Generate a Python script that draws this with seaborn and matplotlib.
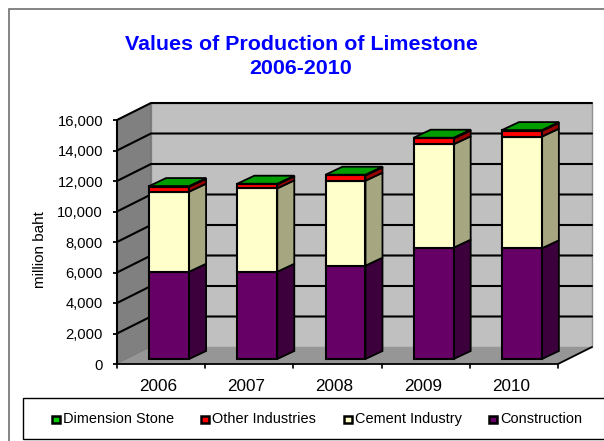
import matplotlib
matplotlib.use("Agg")
import matplotlib.pyplot as plt
import seaborn as sns
from matplotlib.patches import Polygon, Rectangle
from matplotlib.transforms import Affine2D

years = ["2006", "2007", "2008", "2009", "2010"]
construction = [5720, 5720, 6120, 7300, 7260]
cement = [5250, 5470, 5570, 6780, 7320]
other = [320, 255, 345, 380, 380]
dimension = [50, 50, 50, 50, 50]
y_ticks = [0, 2000, 4000, 6000, 8000, 10000, 12000, 14000, 16000]

series = [
    # name, values, front, side
    ("Construction", construction, "#660066", "#3c003c"),
    ("Cement Industry", cement, "#ffffcc", "#a6a680"),
    ("Other Industries", other, "#ff0000", "#990000"),
    ("Dimension Stone", dimension, "#00cc00", "#007a00"),
]
top_color = "#009c00"

W, H = 604, 441
sns.set_theme(style="white")
plt.rcParams["font.family"] = ["Liberation Sans", "DejaVu Sans"]

fig = plt.figure(figsize=(W / 100, H / 100), dpi=100)
# axes = front plane of the 3D box, in pixels of the image
ax = fig.add_axes([117 / W, (H - 364) / H, (558 - 117) / W, (364 - 120) / H])
ax.patch.set_visible(False)
for s in ax.spines.values():
    s.set_visible(False)

x0, x1 = -0.5, 4.5
ymax = y_ticks[-1]
ax.set_xlim(x0, x1)
ax.set_ylim(0, ymax)
ax.autoscale(False)


def shifted(dx, dy):
    return ax.transData + Affine2D().translate(dx, dy)


def add_poly(points, **kw):
    # polygon given in display pixels, may lie outside the axes box
    ax.add_patch(Polygon(points, closed=True, transform=None, clip_on=False, **kw))


# chart frame
fig.add_artist(Rectangle((9 / W, -0.01), 1.2, (H - 9) / H + 0.01, transform=fig.transFigure,
                         fc="white", ec="#707070", lw=1.2, zorder=-2))

# walls, floor and gridlines
wall = (34, 17)
a = ax.transData.transform((x0, 0))
b = ax.transData.transform((x1, 0))
c = ax.transData.transform((x0, ymax))
d = ax.transData.transform((x1, ymax))
add_poly([a + wall, b + wall, d + wall, c + wall], fc="#c0c0c0", ec="#909090", lw=1, zorder=1)
add_poly([a, a + wall, c + wall, c], fc="#808080", ec="#707070", lw=0.8, zorder=1)
add_poly([a, b, b + wall, a + wall], fc="#969696", ec="none", zorder=1)
for t in y_ticks[1:]:
    p = ax.transData.transform((x0, t))
    q = ax.transData.transform((x1, t))
    ax.plot([p[0], p[0] + wall[0], q[0] + wall[0]], [p[1], p[1] + wall[1], q[1] + wall[1]],
            transform=None, color="black", lw=1.5, zorder=2, solid_joinstyle="miter",
            clip_on=False)
# axis lines of the front plane
ax.plot([a[0], c[0]], [a[1], c[1]], transform=None, color="black", lw=1.5, zorder=6, clip_on=False)
ax.plot([a[0], b[0], b[0] + wall[0]], [a[1], b[1], b[1] + wall[1]], transform=None,
        color="black", lw=1.3, zorder=2, clip_on=False)

# stacked bars, front faces through seaborn
bottom = [0] * len(years)
bar_w = 0.453
bar_shift = (8, 5)
depth = (17, 8)
for name, vals, front, side in series:
    n_before = len(ax.patches)
    sns.barplot(x=years, y=vals, bottom=bottom, color=front, saturation=1, width=bar_w,
                edgecolor="black", linewidth=1.5, ax=ax, zorder=4)
    ax.set_xlim(x0, x1)
    ax.set_ylim(0, ymax)
    for i, bar in enumerate(ax.patches[n_before:]):
        bar.set_transform(shifted(*bar_shift))
        bar.set_facecolor(front)
        bar.set_clip_on(False)
        bx, bw = bar.get_x(), bar.get_width()
        top = bottom[i] + vals[i]
        pts = ax.transData.transform([(bx + bw, bottom[i]), (bx + bw, top)]) + bar_shift
        add_poly([pts[0], pts[0] + depth, pts[1] + depth, pts[1]], fc=side, ec="black",
                 lw=1.3, joinstyle="miter", zorder=3)
        if name == "Dimension Stone":
            l = ax.transData.transform((bx, top)) + bar_shift
            add_poly([l, pts[1], pts[1] + depth, l + depth], fc=top_color, ec="black",
                     lw=1.3, joinstyle="miter", zorder=5)
    bottom = [u + v for u, v in zip(bottom, vals)]

ax.set_xticks(range(len(years)))
ax.set_xticklabels(years, fontsize=12.3, color="black")
ax.set_yticks(y_ticks)
ax.set_yticklabels([f"{t:,}" for t in y_ticks], fontsize=10.6, color="black")
ax.tick_params(axis="y", length=3, width=1.3, color="black", pad=7, left=True)
ax.tick_params(axis="x", length=0, pad=10.5)
for lab in ax.get_xticklabels():
    lab.set_transform(lab.get_transform() + Affine2D().translate(-3, 0))
ax.set_xlabel("")
ax.set_ylabel("million baht", fontsize=11, color="black")
ax.yaxis.set_label_coords((47 - 117) / (558 - 117), (364 - 250) / (364 - 120))
for t in [x0, 0.5, 1.5, 2.5, 3.5, x1]:
    ax.plot([t, t], [0, -230], color="black", lw=1.2, clip_on=False, zorder=6)
ax.set_xlim(x0, x1)
ax.set_ylim(0, ymax)

fig.text(301 / W, 1 - 44 / H, "Values of Production of Limestone", color="#0000ff",
         fontsize=15.4, fontweight="bold", ha="center", va="center")
fig.text(301 / W, 1 - 69 / H, "2006-2010", color="#0000ff",
         fontsize=15.4, fontweight="bold", ha="center", va="center")

# legend box
fig.add_artist(Rectangle((22.5 / W, (H - 439) / H), 1.0, 41 / H, transform=fig.transFigure,
                         fc="white", ec="black", lw=1, zorder=-1))
legend_items = [("Dimension Stone", "#00cc00", 51), ("Other Industries", "#ff0000", 200),
                ("Cement Industry", "#ffffcc", 343), ("Construction", "#660066", 488)]
for name, col, lx in legend_items:
    fig.add_artist(Rectangle(((lx + 1) / W, (H - 423) / H), 7.5 / W, 7.5 / H,
                             transform=fig.transFigure, fc=col, ec="black", lw=1.8))
    fig.text((lx + 12) / W, (H - 419) / H, name, fontsize=10.45, color="black",
             ha="left", va="center")

fig.savefig("out.png", dpi=100)
